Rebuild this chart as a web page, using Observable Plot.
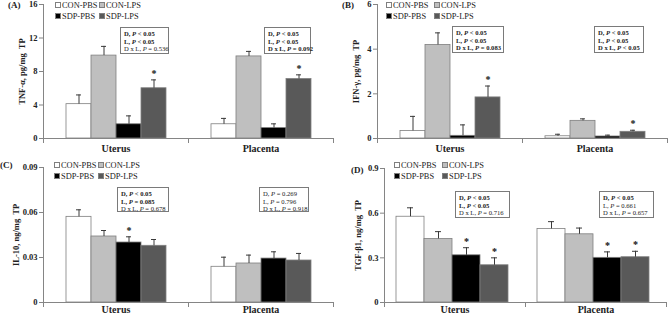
<!DOCTYPE html>
<html>
<head>
<meta charset="utf-8">
<script src="https://cdn.jsdelivr.net/npm/d3@7"></script>
<script src="https://cdn.jsdelivr.net/npm/@observablehq/plot@0.6"></script>
<style>
  body { margin: 0; background: #fff; }
  #fig { position: relative; width: 669px; height: 315px; overflow: hidden; background: #fff;
         font-family: "Liberation Serif", "Times New Roman", serif; color: #222; }
  .panel { position: absolute; }
  .panel svg { display: block; }
  .plab { position: absolute; font-weight: bold; font-size: 9px; line-height: 10px; }
  .legend { position: absolute; font-size: 8.4px; line-height: 11px; white-space: nowrap; }
  .legend .item { position: absolute; }
  .legend .sw { display: inline-block; width: 6px; height: 6px; border: 1px solid #7f7f7f; margin-right: 1px; box-sizing: border-box; vertical-align: 0px; }
  .box { position: absolute; border: 1px solid #7a7a7a; font-size: 6.6px; line-height: 7.6px; padding: 2px 3px; box-sizing: border-box; white-space: nowrap; background: #fff; }
  .box b { font-weight: bold; }
</style>
</head>
<body>
<div id="fig"></div>
<script>
// ---------- data ----------
const organs = ["Uterus", "Placenta"];
const groups = ["CON-PBS", "CON-LPS", "SDP-PBS", "SDP-LPS"];
const groupColors = ["#ffffff", "#bfbfbf", "#000000", "#595959"];

// order: Uterus (CON-PBS, CON-LPS, SDP-PBS, SDP-LPS), Placenta (same)
const tnfMean = [4.1, 9.9, 1.7, 6.0, 1.7, 9.8, 1.25, 7.1];
const tnfSE   = [1.1, 1.1, 1.0, 1.0, 0.7, 0.6, 0.5, 0.5];
const tnfStar = [0, 0, 0, 1, 0, 0, 0, 1];
const tnfTicks = [0, 4, 8, 12, 16];

const ifnMean = [0.34, 4.19, 0.12, 1.84, 0.10, 0.79, 0.09, 0.30];
const ifnSE   = [0.65, 0.54, 0.49, 0.51, 0.09, 0.09, 0.06, 0.07];
const ifnStar = [0, 0, 0, 1, 0, 0, 0, 1];
const ifnTicks = [0, 2, 4, 6];

const il10Mean = [0.0571, 0.044, 0.040, 0.0378, 0.0238, 0.026, 0.0293, 0.028];
const il10SE   = [0.0047, 0.004, 0.0038, 0.0042, 0.0064, 0.0056, 0.0045, 0.0047];
const il10Star = [0, 0, 1, 0, 0, 0, 0, 0];
const il10Ticks = [0, 0.03, 0.06, 0.09];

const tgfMean = [0.576, 0.427, 0.317, 0.25, 0.494, 0.458, 0.30, 0.304];
const tgfSE   = [0.06, 0.049, 0.051, 0.05, 0.049, 0.042, 0.04, 0.04];
const tgfStar = [0, 0, 1, 1, 0, 0, 1, 1];
const tgfTicks = [0, 0.3, 0.6, 0.9];

const tnfStatsU = ["D, P < 0.05", "L, P < 0.05", "D x L, P = 0.536"];
const tnfBoldU = [1, 1, 0];
const tnfStatsP = ["D, P < 0.05", "L, P < 0.05", "D x L, P = 0.092"];
const tnfBoldP = [1, 1, 1];
const ifnStatsU = ["D, P < 0.05", "L, P < 0.05", "D x L, P = 0.083"];
const ifnBoldU = [1, 1, 1];
const ifnStatsP = ["D, P < 0.05", "L, P < 0.05", "D x L, P < 0.05"];
const ifnBoldP = [1, 1, 1];
const il10StatsU = ["D, P < 0.05", "L, P = 0.085", "D x L, P = 0.678"];
const il10BoldU = [1, 1, 0];
const il10StatsP = ["D, P = 0.269", "L, P = 0.796", "D x L, P = 0.918"];
const il10BoldP = [0, 0, 0];
const tgfStatsU = ["D, P < 0.05", "L, P < 0.05", "D x L, P = 0.716"];
const tgfBoldU = [1, 1, 0];
const tgfStatsP = ["D, P < 0.05", "L, P = 0.661", "D x L, P = 0.657"];
const tgfBoldP = [1, 0, 0];

// ---------- drawing ----------
const fig = document.getElementById("fig");

function rows(mean, se, star) {
  return organs.flatMap((o, i) => groups.map((g, j) => ({
    organ: o, group: g, mean: mean[i * 4 + j], se: se[i * 4 + j], star: star[i * 4 + j]
  })));
}

function makePanel(cfg) {
  const data = rows(cfg.mean, cfg.se, cfg.star);
  const innerH = cfg.height - cfg.marginTop - cfg.marginBottom;
  const axisColor = "#858585";
  const top = d => d.mean + d.se;
  const chart = Plot.plot({
    width: cfg.width, height: cfg.height,
    marginLeft: cfg.marginLeft, marginRight: cfg.marginRight,
    marginTop: cfg.marginTop, marginBottom: cfg.marginBottom,
    style: { fontFamily: "'Liberation Serif', 'Times New Roman', serif", fontSize: "8.5px", color: "#222", background: "transparent", overflow: "visible" },
    fx: { domain: organs, padding: 0, label: null },
    x: { domain: groups, axis: null, paddingInner: 0, paddingOuter: cfg.pad, align: cfg.align },
    y: { domain: cfg.domain, label: null },
    color: { domain: groups, range: groupColors },
    marks: [
      Plot.barY(data, { fx: "organ", x: "group", y: "mean", fill: "group", stroke: "#7f7f7f", strokeWidth: 0.8 }),
      Plot.ruleX(data, { fx: "organ", x: "group", y1: "mean", y2: top, stroke: "#3a3a3a", strokeWidth: 1 }),
      Plot.tickY(data, { fx: "organ", x: "group", y: top, stroke: "#3a3a3a", strokeWidth: 1, insetLeft: cfg.cap, insetRight: cfg.cap }),
      Plot.text(data.filter(d => d.star), { fx: "organ", x: "group", y: top, text: () => "*", dy: -6, fontWeight: "bold", fontSize: 10, fill: "#111" }),
      Plot.frame({ anchor: "bottom", stroke: axisColor }),
      Plot.frame({ anchor: "left", stroke: axisColor, facetAnchor: "left" }),
      Plot.frame({ anchor: "left", stroke: axisColor, insetTop: innerH, insetBottom: -4 }),
      Plot.frame({ anchor: "right", stroke: axisColor, insetTop: innerH, insetBottom: -4, facetAnchor: "right" }),
      Plot.axisY({ ticks: cfg.ticks, tickFormat: d => String(d), tickSize: 4, tickPadding: 2, stroke: axisColor, fontWeight: "bold", fill: "#222",
                   label: cfg.ylabel, labelAnchor: "center", labelArrow: "none", labelOffset: cfg.labelOffset }),
      Plot.axisFx({ anchor: "bottom", tickSize: 0, tickPadding: cfg.fxPad, label: null, fontWeight: "bold", fontSize: 10, fill: "#222" })
    ]
  });
  const div = document.createElement("div");
  div.className = "panel";
  div.style.left = cfg.left + "px";
  div.style.top = cfg.top + "px";
  div.appendChild(chart);
  fig.appendChild(div);
  chart.querySelectorAll('[aria-label="y-axis label"] text, [aria-label="y-axis label"]').forEach(t => { t.style.fontWeight = "bold"; });

  // panel letter
  const pl = document.createElement("div");
  pl.className = "plab";
  pl.style.left = cfg.letterPos[0] + "px";
  pl.style.top = cfg.letterPos[1] + "px";
  pl.textContent = cfg.letter;
  fig.appendChild(pl);

  // legend
  const lg = document.createElement("div");
  lg.className = "legend";
  lg.style.left = cfg.legendPos[0] + "px";
  lg.style.top = cfg.legendPos[1] + "px";
  groups.forEach((g, i) => {
    const it = document.createElement("div");
    it.className = "item";
    it.style.left = (i % 2) * cfg.legendColGap + "px";
    it.style.top = Math.floor(i / 2) * 11 + "px";
    const sw = document.createElement("span");
    sw.className = "sw";
    sw.style.background = groupColors[i];
    it.appendChild(sw);
    it.appendChild(document.createTextNode(g));
    lg.appendChild(it);
  });
  fig.appendChild(lg);

  // stats boxes
  cfg.boxes.forEach(b => {
    const bx = document.createElement("div");
    bx.className = "box";
    bx.style.left = b.pos[0] + "px";
    bx.style.top = b.pos[1] + "px";
    bx.style.width = b.pos[2] + "px";
    bx.style.height = b.pos[3] + "px";
    b.lines.forEach((ln, k) => {
      const line = document.createElement("div");
      const html = ln.replace("P", "<i>P</i>");
      line.innerHTML = b.bold[k] ? "<b>" + html + "</b>" : html;
      bx.appendChild(line);
    });
    fig.appendChild(bx);
  });
}

makePanel({
  left: 0, top: 0, width: 335, height: 158,
  marginLeft: 42, marginRight: 2, marginTop: 4, marginBottom: 20,
  pad: 0.8, align: 0.5, cap: 10, fxPad: 6,
  mean: tnfMean, se: tnfSE, star: tnfStar, domain: [0, 16], ticks: tnfTicks,
  ylabel: "TNF-α, pg/mg  TP", labelOffset: 25,
  letter: "(A)", letterPos: [8, 0],
  legendPos: [55, 0], legendColGap: 44,
  boxes: [
    { pos: [120, 27, 49, 27], lines: tnfStatsU, bold: tnfBoldU },
    { pos: [264, 27, 47, 27], lines: tnfStatsP, bold: tnfBoldP }
  ]
});

makePanel({
  left: 334, top: 0, width: 335, height: 158,
  marginLeft: 42, marginRight: 2, marginTop: 4, marginBottom: 20,
  pad: 0.8, align: 0.5, cap: 10, fxPad: 6,
  mean: ifnMean, se: ifnSE, star: ifnStar, domain: [0, 6], ticks: ifnTicks,
  ylabel: "IFN-γ, pg/mg  TP", labelOffset: 25,
  letter: "(B)", letterPos: [342, 0],
  legendPos: [386, 0], legendColGap: 48,
  boxes: [
    { pos: [452, 26, 52, 27], lines: ifnStatsU, bold: ifnBoldU },
    { pos: [594, 26, 50, 27], lines: ifnStatsP, bold: ifnBoldP }
  ]
});

makePanel({
  left: 0, top: 158, width: 335, height: 157,
  marginLeft: 42, marginRight: 2, marginTop: 9, marginBottom: 13,
  pad: 0.8, align: 0.5, cap: 10, fxPad: 3,
  mean: il10Mean, se: il10SE, star: il10Star, domain: [0, 0.09], ticks: il10Ticks,
  ylabel: "IL-10, ng/mg  TP", labelOffset: 31,
  letter: "(C)", letterPos: [0, 160],
  legendPos: [54, 160], legendColGap: 44,
  boxes: [
    { pos: [117, 187, 52, 25], lines: il10StatsU, bold: il10BoldU },
    { pos: [259, 187, 50, 25], lines: il10StatsP, bold: il10BoldP }
  ]
});

makePanel({
  left: 334, top: 158, width: 335, height: 157,
  marginLeft: 49, marginRight: 3, marginTop: 10, marginBottom: 13,
  pad: 0.46, align: 0.4, cap: 11, fxPad: 3,
  mean: tgfMean, se: tgfSE, star: tgfStar, domain: [0, 0.9], ticks: tgfTicks,
  ylabel: "TGF-β1, ng/mg  TP", labelOffset: 30,
  letter: "(D)", letterPos: [351, 165],
  legendPos: [394, 160], legendColGap: 48,
  boxes: [
    { pos: [455, 191, 55, 27], lines: tgfStatsU, bold: tgfBoldU },
    { pos: [599, 191, 55, 27], lines: tgfStatsP, bold: tgfBoldP }
  ]
});
</script>
</body>
</html>
